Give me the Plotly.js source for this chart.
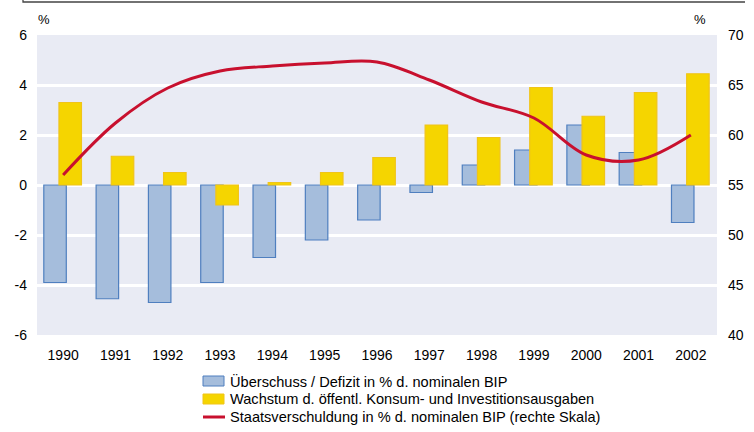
<!DOCTYPE html>
<html>
<head>
<meta charset="utf-8">
<script src="https://cdn.plot.ly/plotly-3.0.1.min.js"></script>
<style>html,body{margin:0;padding:0;background:#fff;}#chart{width:754px;height:432px;}</style>
</head>
<body>
<div id="chart"></div>
<script>
const years = ['1990','1991','1992','1993','1994','1995','1996','1997','1998','1999','2000','2001','2002'];
const saldo = [-3.9, -4.55, -4.7, -3.9, -2.9, -2.2, -1.4, -0.3, 0.8, 1.4, 2.4, 1.3, -1.5];
const wachstum = [3.3, 1.15, 0.5, -0.8, 0.1, 0.5, 1.1, 2.4, 1.9, 3.9, 2.75, 3.7, 4.45];
const schulden = [56.0, 61.2, 64.7, 66.4, 66.9, 67.2, 67.3, 65.5, 63.3, 61.7, 58.0, 57.5, 60.0];
const leftTicks = [-6, -4, -2, 0, 2, 4, 6];
const rightTicks = [40, 45, 50, 55, 60, 65, 70];
const seriesNames = [
  'Überschuss / Defizit in % d. nominalen BIP',
  'Wachstum d. öffentl. Konsum- und Investitionsausgaben',
  'Staatsverschuldung in % d. nominalen BIP (rechte Skala)'
];
const colors = {
  blueFill: '#A5BDDC', blueLine: '#4F7FBF',
  yellowFill: '#F5D500', yellowLine: '#F0C419',
  red: '#C8102E'
};

const FF = 'Liberation Sans, Arial, sans-serif';
const M = {l: 37, r: 37, t: 35, b: 97};
const W = 754, H = 432;
const PW = W - M.l - M.r, PH = H - M.t - M.b;
const px = x => (x - M.l) / PW;          // pixel x -> paper
const py = y => (H - M.b - y) / PH;      // pixel y -> paper

const traces = [
  {
    type: 'bar', x: years, y: saldo, name: seriesNames[0],
    width: 0.43, offset: -0.37,
    marker: {color: colors.blueFill, line: {color: colors.blueLine, width: 1.2}},
    showlegend: false
  },
  {
    type: 'bar', x: years, y: wachstum, name: seriesNames[1],
    width: 0.43, offset: -0.08,
    marker: {color: colors.yellowFill, line: {color: colors.yellowLine, width: 1.2}},
    showlegend: false
  },
  {
    type: 'scatter', mode: 'lines', x: years, y: schulden, yaxis: 'y2', name: seriesNames[2],
    line: {color: colors.red, width: 3, shape: 'spline', smoothing: 1},
    showlegend: false
  }
];

// manual legend (symbols + text), positioned in pixels
const legRows = [381, 399, 417];
const legShapes = [
  {type: 'rect', xref: 'paper', yref: 'paper', x0: px(203), x1: px(224), y0: py(386), y1: py(376),
   fillcolor: colors.blueFill, line: {color: colors.blueLine, width: 1}},
  {type: 'rect', xref: 'paper', yref: 'paper', x0: px(203), x1: px(224), y0: py(404), y1: py(394),
   fillcolor: colors.yellowFill, line: {color: colors.yellowLine, width: 1}},
  {type: 'line', xref: 'paper', yref: 'paper', x0: px(203), x1: px(225), y0: py(417), y1: py(417),
   line: {color: colors.red, width: 3}}
];
const legAnn = seriesNames.map((t, i) => ({
  text: t, xref: 'paper', yref: 'paper', x: px(228), y: py(legRows[i]),
  xanchor: 'left', yanchor: 'middle', showarrow: false,
  font: {family: FF, size: 14.6, color: '#000'}
}));

const layout = {
  width: W, height: H,
  margin: {l: M.l, r: M.r, t: M.t, b: M.b, pad: 0, autoexpand: false},
  paper_bgcolor: '#ffffff',
  plot_bgcolor: '#E9EBF4',
  barmode: 'overlay',
  font: {family: FF, size: 14, color: '#000'},
  showlegend: false,
  xaxis: {
    type: 'category', showgrid: false, zeroline: false, showline: false,
    ticks: '', ticklabelstandoff: 10, tickfont: {family: FF, size: 14, color: '#000'},
    range: [-0.5, 12.5], fixedrange: true
  },
  yaxis: {
    range: [-6, 6], tickvals: leftTicks, ticktext: leftTicks.map(String),
    showgrid: true, gridcolor: '#ffffff', gridwidth: 3,
    zeroline: true, zerolinecolor: '#ffffff', zerolinewidth: 3,
    showline: false, ticks: '', ticklabelstandoff: 9,
    tickfont: {family: FF, size: 14, color: '#000'}
  },
  yaxis2: {
    range: [40, 70], tickvals: rightTicks, ticktext: rightTicks.map(String),
    overlaying: 'y', side: 'right', showgrid: false, zeroline: false,
    showline: false, ticks: '', ticklabelstandoff: 10,
    tickfont: {family: FF, size: 14, color: '#000'}
  },
  annotations: [
    {text: '%', xref: 'paper', yref: 'paper', x: px(44), y: py(19),
     showarrow: false, xanchor: 'center', yanchor: 'middle', font: {family: FF, size: 13, color: '#000'}},
    {text: '%', xref: 'paper', yref: 'paper', x: px(700), y: py(19),
     showarrow: false, xanchor: 'center', yanchor: 'middle', font: {family: FF, size: 13, color: '#000'}}
  ].concat(legAnn),
  shapes: [
    {type: 'path', xref: 'paper', yref: 'paper', layer: 'above',
     path: 'M ' + px(23) + ' ' + py(0) + ' L ' + px(23) + ' ' + py(2) + ' L ' + px(745) + ' ' + py(2),
     line: {color: '#444444', width: 1.3}}
  ].concat(legShapes)
};

Plotly.newPlot('chart', traces, layout, {displayModeBar: false, staticPlot: true});
</script>
</body>
</html>
